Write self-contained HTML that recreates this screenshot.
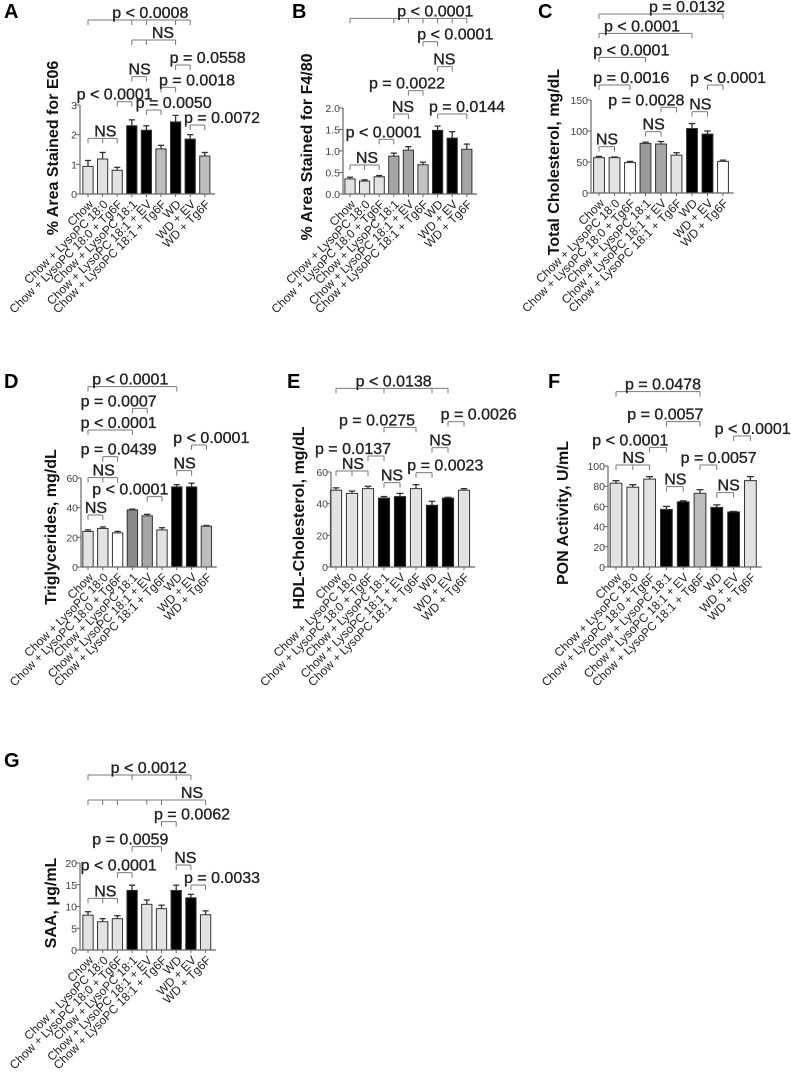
<!DOCTYPE html>
<html><head><meta charset="utf-8">
<style>
html,body{margin:0;padding:0;background:#fff;}
svg{display:block;font-family:"Liberation Sans",Arial,sans-serif;}
</style></head>
<body>
<svg id="fig" width="791" height="1078" viewBox="0 0 791 1078" xmlns="http://www.w3.org/2000/svg"></svg>
<script>
const categories=["Chow","Chow + LysoPC 18:0","Chow + LysoPC 18:0 + Tg6F","Chow + LysoPC 18:1","Chow + LysoPC 18:1 + EV","Chow + LysoPC 18:1 + Tg6F","WD","WD + EV","WD + Tg6F"];
const valuesA=[0.93,1.18,0.8,2.3,2.15,1.52,2.43,1.85,1.28];
const errorsA=[0.2,0.22,0.1,0.2,0.15,0.12,0.22,0.15,0.12];
const ticksA=[0,1,2,3];
const valuesB=[0.35,0.3,0.4,0.88,1.02,0.68,1.48,1.3,1.04];
const errorsB=[0.04,0.03,0.03,0.07,0.08,0.06,0.1,0.15,0.12];
const ticksB=["0.0","0.5","1.0","1.5","2.0"];
const valuesC=[57,57,49,80,79,61,104,95,51];
const errorsC=[2,1,2,2,4,4,8,5,2];
const ticksC=[0,50,100,150];
const valuesD=[24,26,23,38.5,34.5,25,54,54,27.5];
const errorsD=[1,1,1,0.5,1,1.5,1.5,2.5,0.5];
const ticksD=[0,20,40,60];
const valuesE=[48.5,46.5,49.5,43.5,44.5,49.5,39,43.5,48.5];
const errorsE=[1.5,1.5,1.5,1,2,2.5,2.5,0.5,1];
const ticksE=[0,20,40,60];
const valuesF=[83,79,87,57,64.5,73,59,54.5,85.5];
const errorsF=[2.5,2.5,2.5,3,1,3.5,2.5,0.5,4];
const ticksF=[0,20,40,60,80,100];
const valuesG=[8,6.5,7.2,13.7,10.5,9.5,13.7,12,8.1];
const errorsG=[0.8,0.7,0.7,1.2,1,0.8,1.2,0.8,0.9];
const ticksG=[0,5,10,15,20];

const L="#e2e2e2",K="#000",W="#fff",M="#a6a6a6",G="#bdbdbd",D="#8a8a8a";
const panels=[
 {id:"a",letter:"A",lx:4,ly:18,ox:0,oy:0,ax:80,y0:194,top:105,max:3,x0:88,dx:14.6,vals:valuesA,errs:errorsA,ticks:ticksA,
  colors:[L,L,L,K,K,G,K,K,G],title:"% Area Stained for E06",tx:52,ty:148,
  br:[["p < 0.0008",445,60,[0,3,4,6,7]],["NS",483,120,[3,4,6]],["p = 0.0558",617,195,[6,7]],["NS",413,230,[3,4]],
      ["p = 0.0018",585,262,[5,6]],["p < 0.0001",338,305,[2,3]],["p = 0.0050",515,330,[4,5]],["p = 0.0072",660,375,[7,8]],["NS",310,415,[0,1,2]]]},
 {id:"b",letter:"B",lx:292,ly:18,ox:265,oy:0,ax:343,y0:194,top:108,max:2,x0:350,dx:14.6,vals:valuesB,errs:errorsB,ticks:ticksB,
  colors:[L,L,L,M,M,"#c4c4c4",K,K,M],title:"% Area Stained for F4/80",tx:306,ty:147,
  br:[["p < 0.0001",505,55,[0,3,4,5,6,7,8]],["p < 0.0001",565,125,[5,6]],["NS",532,200,[6,7]],["p = 0.0022",420,272,[4,5]],
      ["NS",408,342,[3,4]],["p = 0.0144",600,342,[6,8]],["p < 0.0001",350,418,[2,3]],["NS",300,495,[0,1,2]]]},
 {id:"c",letter:"C",lx:538,ly:18,ox:530,oy:0,ax:591,y0:193,top:100,max:150,x0:599,dx:15.5,vals:valuesC,errs:errorsC,ticks:ticksC,
  colors:[L,L,W,"#999",M,L,K,K,W],title:"Total Cholesterol, mg/dL",tx:553,ty:162,
  br:[["p = 0.0132",465,42,[0,8]],["p < 0.0001",330,100,[0,6]],["p < 0.0001",298,172,[0,3]],["p = 0.0016",298,255,[0,2]],
      ["p < 0.0001",588,255,[7,8]],["p = 0.0028",343,322,[4,5]],["NS",505,335,[6,7]],["NS",365,395,[3,4]],["NS",225,440,[0,1]]]},
 {id:"d",letter:"D",lx:4,ly:388,ox:0,oy:350,ax:81,y0:567,top:478,max:60,x0:88,dx:14.8,vals:valuesD,errs:errorsD,ticks:ticksD,
  colors:[L,L,W,D,M,L,K,K,G],title:"Triglycerides, mg/dL",tx:50,ty:527,
  br:[["p < 0.0001",385,110,[0,6]],["p = 0.0007",350,175,[3,4]],["p < 0.0001",350,240,[0,3]],["p = 0.0439",350,320,[1,2]],
      ["p < 0.0001",628,285,[7,8]],["NS",305,383,[0,1,2]],["NS",548,362,[6,7]],["p < 0.0001",385,440,[4,5]],["NS",282,495,[0,1]]]},
 {id:"e",letter:"E",lx:287,ly:388,ox:265,oy:350,ax:331,y0:567,top:472,max:60,x0:336,dx:16,vals:valuesE,errs:errorsE,ticks:ticksE,
  colors:[L,L,L,K,K,L,K,K,L],title:"HDL-Cholesterol, mg/dL",tx:298,ty:518,
  br:[["p < 0.0138",380,115,[0,3,6,7]],["p = 0.0275",330,232,[3,5]],["p = 0.0026",635,215,[7,8]],["NS",520,293,[6,7]],
      ["p = 0.0137",258,318,[2,3]],["NS",258,363,[0,1,2]],["NS",375,398,[3,4]],["p = 0.0023",535,368,[5,6]]]},
 {id:"f",letter:"F",lx:548,ly:388,ox:530,oy:350,ax:608,y0:567,top:466,max:100,x0:616,dx:16.8,vals:valuesF,errs:errorsF,ticks:ticksF,
  colors:[L,L,L,K,K,G,K,K,L],title:"PON Activity, U/mL",tx:562,ty:513,
  br:[["p = 0.0478",393,125,[0,5]],["p = 0.0057",400,215,[3,5]],["p < 0.0001",662,258,[7,8]],["p < 0.0001",295,292,[2,3]],
      ["NS",305,345,[0,1,2]],["p = 0.0057",560,345,[5,6]],["NS",430,410,[3,4]],["NS",590,428,[6,7]]]},
 {id:"g",letter:"G",lx:4,ly:767,ox:0,oy:730,ax:80,y0:950,top:863,max:20,x0:88,dx:14.7,vals:valuesG,errs:errorsG,ticks:ticksG,
  colors:[L,L,L,K,L,L,K,K,L],title:"SAA, \u03bcg/mL",tx:50,ty:903,
  br:[["p < 0.0012",440,135,[0,3,6,7]],["NS",570,210,[0,1,2,4,5,8]],["p = 0.0062",570,275,[5,6]],["p = 0.0059",385,350,[3,5]],
      ["NS",550,405,[6,7]],["p < 0.0001",350,428,[2,3]],["p = 0.0033",660,465,[7,8]],["NS",310,505,[0,1,2]]]}
];
const NS="http://www.w3.org/2000/svg";
const svg=document.getElementById("fig");
function mk(tag,attrs,parent,text){const e=document.createElementNS(NS,tag);for(const k in attrs)e.setAttribute(k,attrs[k]);if(text!==undefined)e.textContent=text;parent.appendChild(e);return e;}
panels.forEach(p=>{
  const g=mk("g",{},svg);
  
  
  const yS=v=>p.y0-(v/p.max)*(p.y0-p.top);
  const xS=i=>p.x0+i*p.dx;
  const let_=mk("text",{x:p.lx,y:p.ly,"font-size":20,"font-weight":"bold",fill:"#000"},g,p.letter);
  
  
  p.vals.forEach((v,i)=>{
    const bw=p.dx*0.7,cx=xS(i),e=p.errs[i];
    const ln=mk("line",{x1:cx,x2:cx,y1:yS(v),y2:yS(v+e),stroke:"#333","stroke-width":1.3},g);
    
    
    mk("line",{x1:cx-bw*0.3,x2:cx+bw*0.3,y1:yS(v+e),y2:yS(v+e),stroke:"#333","stroke-width":1.3},g);
    const r=mk("rect",{x:cx-bw/2,y:yS(v),width:bw,height:p.y0-yS(v),fill:p.colors[i],stroke:"#333","stroke-width":1},g);
    
    
    const t=mk("text",{x:0,y:0,"font-size":12,fill:"#222","text-anchor":"end",transform:`translate(${cx+6},${p.y0+11}) rotate(-45)`},g,categories[i]);
    
    
    mk("line",{x1:cx,x2:cx,y1:p.y0,y2:p.y0+3,stroke:"#666"},g);
  });
  const xa=mk("line",{x1:p.ax,x2:xS(8)+p.dx/2+3,y1:p.y0,y2:p.y0,stroke:"#666","stroke-width":1.2},g);
  
  
  const ya=mk("line",{x1:p.ax,x2:p.ax,y1:p.y0,y2:p.top,stroke:"#666","stroke-width":1.2},g);
  
  
  p.ticks.forEach(tk=>{
    const y=yS(parseFloat(tk));
    mk("line",{x1:p.ax-4,x2:p.ax,y1:y,y2:y,stroke:"#666"},g);
    const t=mk("text",{x:p.ax-3,y:y+4,"font-size":10.5,fill:"#444","text-anchor":"end"},g,String(tk));
    
    
  });
  const tt=mk("text",{x:0,y:0,"font-size":16,"font-weight":"bold",fill:"#111","text-anchor":"middle",transform:`translate(${p.tx+6},${p.ty}) rotate(-90)`},g,p.title);
  
  
  p.br.forEach(b=>{
    const [lab,tcx,ly,idx]=b;
    const y=p.oy+ly/3,tx=p.ox+tcx/3;
    const x1=xS(idx[0]),x2=xS(idx[idx.length-1]);
    const bg=mk("g",{},g);
    
    
    mk("line",{x1:x1,x2:x2,y1:y,y2:y,stroke:"#777","stroke-width":1},bg);
    idx.forEach(i=>mk("line",{x1:xS(i),x2:xS(i),y1:y,y2:y+5,stroke:"#777","stroke-width":1},bg));
    const t=mk("text",{x:tx+2,y:y-2,"font-size":16,fill:"#222",stroke:"#222","stroke-width":0.35,"text-anchor":"middle"},bg,lab);
    
    
  });
});
</script>
</body></html>
